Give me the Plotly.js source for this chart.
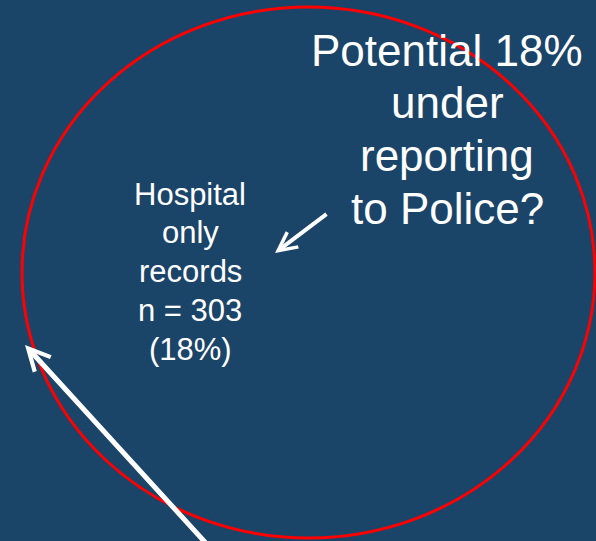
<!DOCTYPE html>
<html>
<head>
<meta charset="utf-8">
<script src="https://cdn.plot.ly/plotly-3.0.1.min.js"></script>
<style>html,body{margin:0;padding:0;background:#1b4469;}#chart{width:596px;height:541px;}</style>
</head>
<body>
<div id="chart"></div>
<script>
// Labels / values
var calloutLines = ["Potential 18%", "under", "reporting", "to Police?"];
var hospitalLines = ["Hospital", "only", "records", "n = 303", "(18%)"];
var hospitalCount = [303];
var hospitalShare = [18];

var bg = "#1b4469";
var font = "Liberation Sans, Arial, sans-serif";

var annotations = [];
calloutLines.forEach(function (t, i) {
  annotations.push({xref: "x", yref: "y", x: 447, y: 50 + i * 52.7, text: t,
    showarrow: false, xanchor: "center", yanchor: "middle",
    font: {family: font, size: 44, color: "#ffffff"}});
});
hospitalLines.forEach(function (t, i) {
  annotations.push({xref: "x", yref: "y", x: 190, y: 194 + i * 38.8, text: t,
    showarrow: false, xanchor: "center", yanchor: "middle",
    font: {family: font, size: 31, color: "#ffffff"}});
});
annotations.push(
  {xref: "x", yref: "y", x: 25, y: 345, axref: "x", ayref: "y", ax: 214, ay: 552,
   text: "", showarrow: true, arrowhead: 5, arrowsize: 0.85, arrowwidth: 5, arrowcolor: "#ffffff"},
  {xref: "x", yref: "y", x: 275, y: 253, axref: "x", ayref: "y", ax: 328, ay: 213,
   text: "", showarrow: true, arrowhead: 5, arrowsize: 0.9, arrowwidth: 4, arrowcolor: "#ffffff"}
);

var layout = {
  width: 596, height: 541,
  margin: {l: 0, r: 0, t: 0, b: 0},
  paper_bgcolor: bg, plot_bgcolor: bg,
  showlegend: false,
  xaxis: {range: [0, 596], visible: false, fixedrange: true},
  yaxis: {range: [541, 0], visible: false, fixedrange: true},
  shapes: [
    {type: "circle", xref: "x", yref: "y", x0: 22, x1: 595, y0: 7, y1: 538,
     line: {color: "#ff0000", width: 3}}
  ],
  annotations: annotations
};

Plotly.newPlot("chart", [{x: [], y: [], type: "scatter", mode: "markers", hoverinfo: "skip"}], layout, {displayModeBar: false, staticPlot: true});
</script>
</body>
</html>
